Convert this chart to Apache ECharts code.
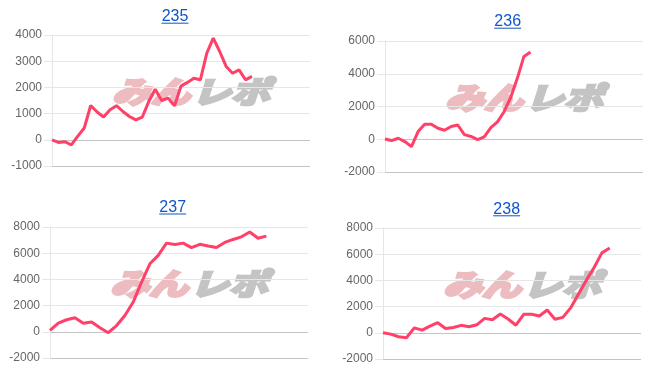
<!DOCTYPE html>
<html>
<head>
<meta charset="utf-8">
<script src="https://cdn.jsdelivr.net/npm/echarts@6/dist/echarts.min.js"></script>
<style>
html,body{margin:0;padding:0;background:#fff;}
#chart{width:649px;height:372px;}
</style>
</head>
<body>
<div id="chart"></div>
<script>
// ---- data ----
const titles = ['235', '236', '237', '238'];

const categories235 = [1,2,3,4,5,6,7,8,9,10,11,12,13,14,15,16,17,18,19,20,21,22,23,24,25,26,27,28,29,30,31,32,33,34,35,36,37,38,39,40,41];
const categories236 = [1,2,3,4,5,6,7,8,9,10,11,12,13,14,15,16,17,18,19,20,21,22,23,24,25,26,27,28,29,30,31,32,33,34,35,36,37,38,39,40];
const categories237 = [1,2,3,4,5,6,7,8,9,10,11,12,13,14,15,16,17,18,19,20,21,22,23,24,25,26,27,28,29,30,31,32];
const categories238 = [1,2,3,4,5,6,7,8,9,10,11,12,13,14,15,16,17,18,19,20,21,22,23,24,25,26,27,28,29,30,31,32,33,34];

const values235 = [0, -100, -75, -190, 140, 450, 1310, 1060, 870, 1150, 1300, 1080, 890, 760, 870, 1460, 1930, 1500, 1590, 1300, 2050, 2190, 2350, 2290, 3310, 3880, 3370, 2800, 2540, 2670, 2290, 2420];
const values236 = [20, -80, 60, -140, -450, 470, 920, 920, 670, 550, 780, 870, 280, 170, -20, 140, 710, 1060, 1680, 2550, 3720, 5060, 5330];
const values237 = [100, 660, 920, 1070, 660, 740, 310, -70, 480, 1250, 2270, 3800, 5190, 5830, 6770, 6670, 6770, 6430, 6680, 6550, 6430, 6820, 7050, 7250, 7620, 7140, 7300];
const values238 = [0, -100, -300, -380, 380, 200, 510, 770, 330, 410, 570, 460, 610, 1100, 1000, 1430, 1050, 580, 1410, 1410, 1280, 1740, 1030, 1180, 1900, 2950, 4000, 4980, 6100, 6480];

const yMin = [-1000, -2000, -2000, -2000];
const yMax = [4000, 6000, 8000, 8000];
const yStep = [1000, 2000, 2000, 2000];

// ---- layout ----
const grids = [
  {left: 52, top: 35, width: 258, height: 131},
  {left: 385, top: 41, width: 258, height: 131},
  {left: 50, top: 227, width: 258, height: 131},
  {left: 383, top: 228, width: 258, height: 131}
];
const titlePos = [[175, 16.7], [507.7, 21.7], [172.7, 207.5], [506.7, 209.3]];

const cats = [categories235, categories236, categories237, categories238];
const vals = [values235, values236, values237, values238];

const lineColor = '#ff4068';
const linkColor = '#1155cc';
const labelFont = '"Liberation Sans", Arial, Helvetica, sans-serif';
const wmFont = 'italic bold 30px "Noto Sans CJK JP"';

const xAxes = [], yAxes = [], series = [], graphics = [];
for (let i = 0; i < 4; i++) {
  xAxes.push({
    type: 'category', gridIndex: i, data: cats[i], boundaryGap: false,
    axisLine: {show: false}, axisTick: {show: false}, axisLabel: {show: false},
    splitLine: {show: false}
  });
  yAxes.push({
    type: 'value', gridIndex: i, min: yMin[i], max: yMax[i], interval: yStep[i],
    axisLine: {show: true, lineStyle: {color: '#e6e6e6', width: 1}},
    axisTick: {show: true, length: 8, lineStyle: {color: '#e6e6e6'}},
    axisLabel: {color: '#666', fontSize: 12, fontFamily: labelFont, margin: 10, formatter: v => String(v)},
    splitLine: {show: true, lineStyle: {color: ['#c4c4c4', '#c4c4c4', '#e6e6e6', '#e6e6e6', '#e6e6e6', '#e6e6e6'], width: 1}}
  });
  series.push({
    type: 'line', xAxisIndex: i, yAxisIndex: i, data: vals[i],
    showSymbol: false, symbol: 'none', smooth: false,
    lineStyle: {color: lineColor, width: 3}, z: 3
  });
  // title (link style)
  graphics.push({
    type: 'text', x: titlePos[i][0], y: titlePos[i][1],
    style: {text: titles[i], fill: linkColor, font: '16px ' + labelFont, textAlign: 'center', textVerticalAlign: 'middle'}
  });
  graphics.push({
    type: 'line', shape: {x1: titlePos[i][0] - 13.5, y1: titlePos[i][1] + 6.5, x2: titlePos[i][0] + 13.5, y2: titlePos[i][1] + 6.5},
    style: {stroke: linkColor, lineWidth: 1}
  });
  // watermark
  const cx = grids[i].left + 139, cy = grids[i].top + 56.7;
  graphics.push({
    type: 'text', x: cx - 40, y: cy, z: -1, scaleX: 1.3, scaleY: 1.0,
    style: {text: 'みん', fill: '#ecbcc1', stroke: '#ecbcc1', lineWidth: 3, lineJoin: 'round', font: wmFont, textAlign: 'center', textVerticalAlign: 'middle'}
  });
  graphics.push({
    type: 'text', x: cx + 40, y: cy, z: -1, scaleX: 1.3, scaleY: 1.0,
    style: {text: 'レポ', fill: '#c4c4c4', stroke: '#c4c4c4', lineWidth: 3, lineJoin: 'round', font: wmFont, textAlign: 'center', textVerticalAlign: 'middle'}
  });
}

const chart = echarts.init(document.getElementById('chart'), null, {renderer: 'canvas'});
chart.setOption({
  animation: false,
  backgroundColor: '#fff',
  grid: grids.map(g => Object.assign({containLabel: false}, g)),
  xAxis: xAxes,
  yAxis: yAxes,
  series: series,
  graphic: {elements: graphics}
});
</script>
</body>
</html>
